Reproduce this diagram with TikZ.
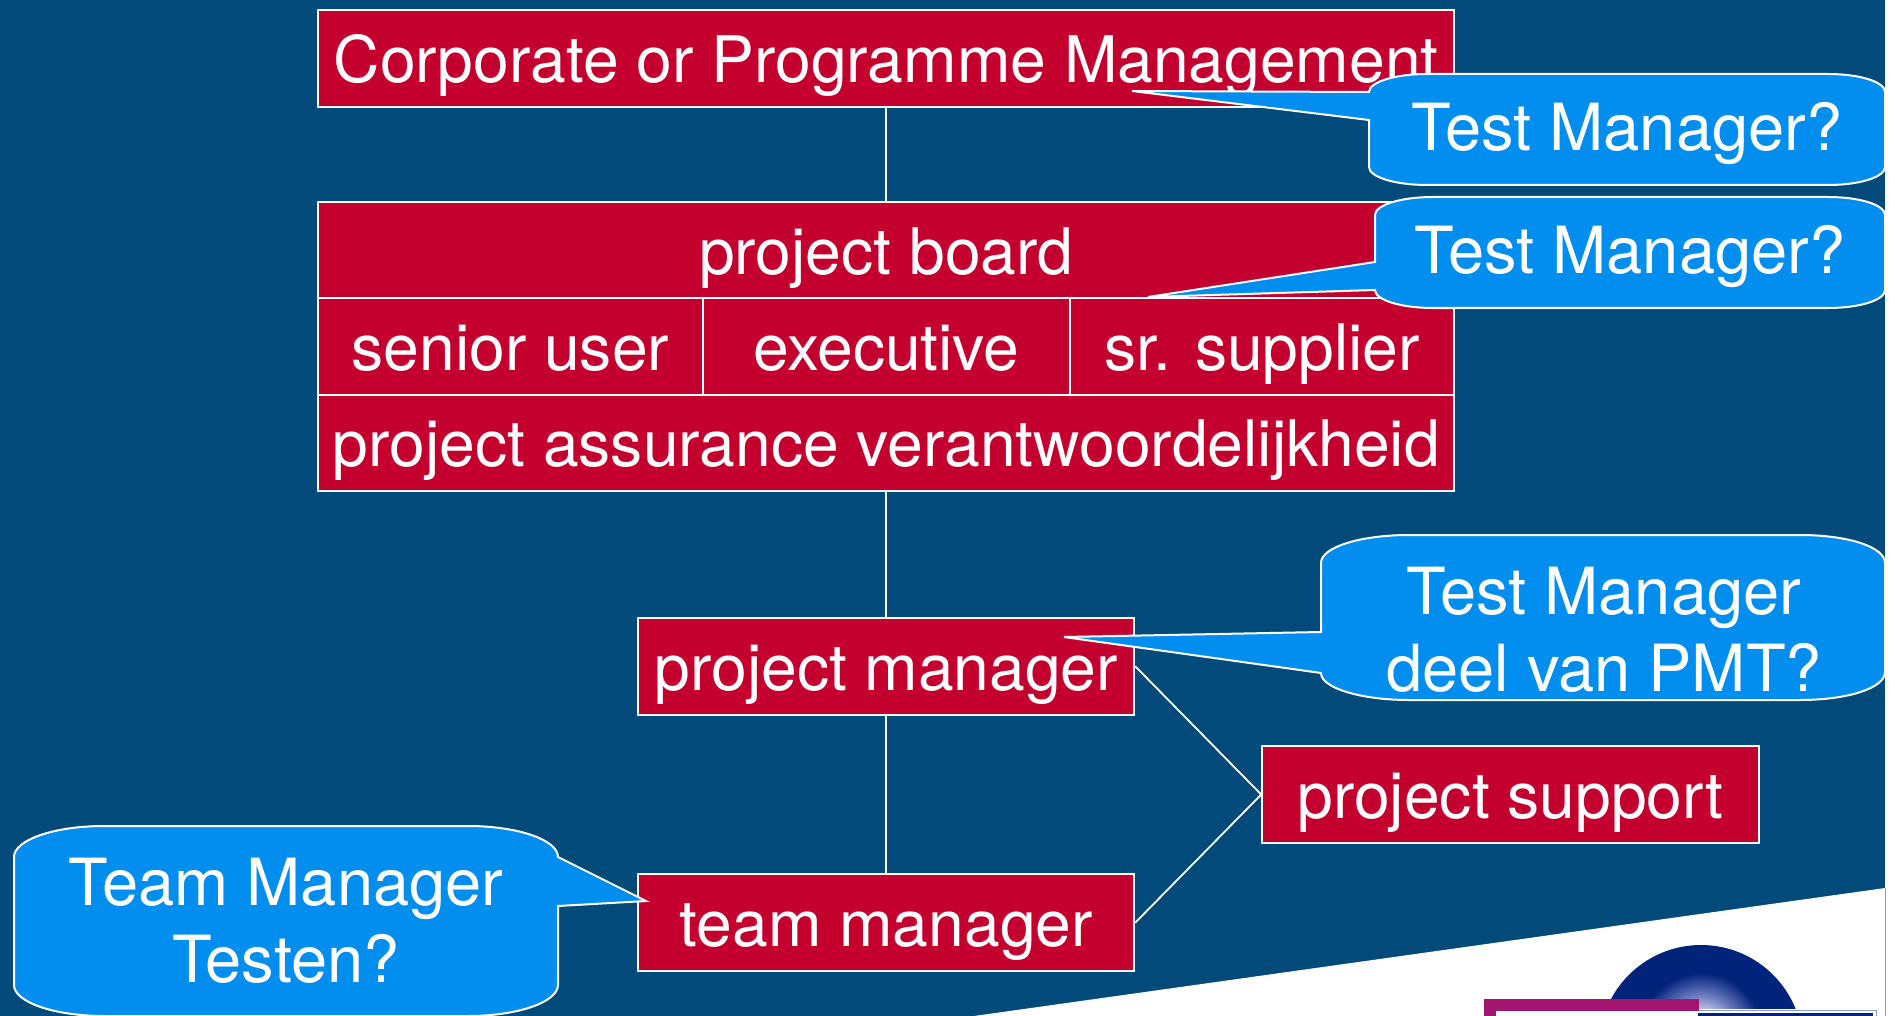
\documentclass[tikz,border=0pt]{standalone}
\usepackage{fontspec}
\setmainfont{TeX Gyre Heros}
\definecolor{bgblue}{HTML}{024A7A}
\definecolor{boxred}{HTML}{C4002F}
\definecolor{callblue}{HTML}{028EEE}
\definecolor{logopurple}{HTML}{A3166F}
\definecolor{logonavy}{HTML}{02237A}
\definecolor{logolight}{HTML}{D8D8F6}
\definecolor{logomid}{HTML}{6C7CC0}
\definecolor{edgegrey}{HTML}{7FA0B8}
\pgfdeclareradialshading{sphereshade}{\pgfpoint{0bp}{4.5bp}}{
  color(0bp)=(logolight); color(4bp)=(logolight); color(9bp)=(logomid); color(15bp)=(logonavy); color(50bp)=(logonavy)}
\tikzset{
  redbox/.style={draw=white,line width=2pt,fill=boxred,text=white,font=\fontsize{64.2}{64.2}\selectfont,inner sep=0pt,anchor=north west,text height=58pt,text depth=10pt},
  callout/.style={draw=white,line width=2pt,fill=callblue,line join=miter},
  calltext/.style={text=white,font=\fontsize{65}{76.5}\selectfont,align=center,inner sep=0pt},
  link/.style={draw=white,line width=1.8pt}
}
\begin{document}
\begin{tikzpicture}[x=1pt,y=-1pt]
\useasboundingbox (0,0) rectangle (1895,1016);
\fill[white] (0,0) rectangle (1895,1016);
\fill[bgblue] (0,0) rectangle (1885,1016);
\fill[white] (974,1016) -- (1885,888) -- (1885,1016) -- cycle;
\draw[edgegrey,line width=1pt] (1885.5,888) -- (1885.5,1016);
% logo
\begin{scope}
\clip (1480,930) rectangle (1885,1016);
\shade[shading=sphereshade] (1701,1047) circle[radius=102];
\fill[white] (1698,1009) rectangle (1877,1016);
\fill[logopurple] (1484,999) rectangle (1699,1016);
\fill[white] (1496,1011) rectangle (1699,1016);
\draw[logonavy!45!white,line width=1pt] (1699,1010) -- (1876,1010) -- (1876,1016);
\fill[logonavy] (1698,1013) rectangle (1873,1016);
\end{scope}
\node[redbox,minimum width=1136pt,minimum height=96.6pt] (corp) at (317.3,9.3) {Corporate or Programme Management};
\node[redbox,minimum width=1136pt,minimum height=95.5pt] (board) at (317.3,201.3) {project board};
\node[redbox,minimum width=384.2pt,minimum height=96.7pt] (user) at (317.3,296.8) {senior user};
\node[redbox,minimum width=367.5pt,minimum height=96.7pt] (exec) at (701.5,296.8) {executive};
\node[redbox,minimum width=384.3pt,minimum height=96.7pt] (supp) at (1069,296.8) {sr. supplier};
\node[redbox,minimum width=1136pt,minimum height=96.6pt] (assur) at (317.3,393.5) {project assurance verantwoordelijkheid};
\node[redbox,minimum width=496pt,minimum height=96.7pt] (pm) at (637.3,617) {project manager};
\node[redbox,minimum width=496pt,minimum height=96.6pt] (tm) at (637.3,873.3) {team manager};
\node[redbox,minimum width=496.7pt,minimum height=96.6pt] (ps) at (1261.2,745.2) {project support};
\draw[link] (corp.south) -- (board.north);
\draw[link] (assur.south) -- (pm.north);
\draw[link] (pm.south) -- (tm.north);
\draw[link] (pm.east) -- (ps.west);
\draw[link] (tm.east) -- (ps.west);
% callouts
\coordinate (tip1) at (1132,91);
\coordinate (tip2) at (1148,297);
\coordinate (tip3) at (1064,637);
\coordinate (tip4) at (646,901);
\draw[callout] (1369,92) .. controls (1369,82) and (1395,74) .. (1427,74) -- (1828,74)
  .. controls (1860,74) and (1885,82) .. (1885,92) -- (1885,167)
  .. controls (1885,177) and (1860,185) .. (1828,185) -- (1427,185)
  .. controls (1395,185) and (1369,177) .. (1369,167) -- (1369,120) -- (tip1) -- cycle;
\node[calltext] (c1) at (1627,134) {Test Manager?};
\draw[callout] (1375,215) .. controls (1375,205) and (1401,197) .. (1433,197) -- (1828,197)
  .. controls (1860,197) and (1885,205) .. (1885,215) -- (1885,290)
  .. controls (1885,300) and (1860,308) .. (1828,308) -- (1433,308)
  .. controls (1401,308) and (1375,300) .. (1375,290) -- (tip2) -- (1375,262) -- cycle;
\node[calltext] (c2) at (1630,257) {Test Manager?};
\draw[callout] (1321,563) .. controls (1321,547) and (1361,535) .. (1409,535) -- (1800,535)
  .. controls (1848,535) and (1885,547) .. (1885,563) -- (1885,672)
  .. controls (1885,688) and (1848,700) .. (1800,700) -- (1409,700)
  .. controls (1361,700) and (1321,688) .. (1321,673) -- (tip3) -- (1321,632) -- cycle;
\node[calltext] (c3) at (1604,630) {Test Manager\\deel van PMT?};
\draw[callout] (14,857) .. controls (14,840) and (54,826) .. (104,826) -- (468,826)
  .. controls (518,826) and (558,840) .. (558,857) -- (tip4) -- (558,906) -- (558,985)
  .. controls (558,1002) and (518,1016) .. (468,1016) -- (104,1016)
  .. controls (54,1016) and (14,1002) .. (14,985) -- cycle;
\node[calltext] (c4) at (286,921) {Team Manager\\Testen?};
\end{tikzpicture}
\end{document}
